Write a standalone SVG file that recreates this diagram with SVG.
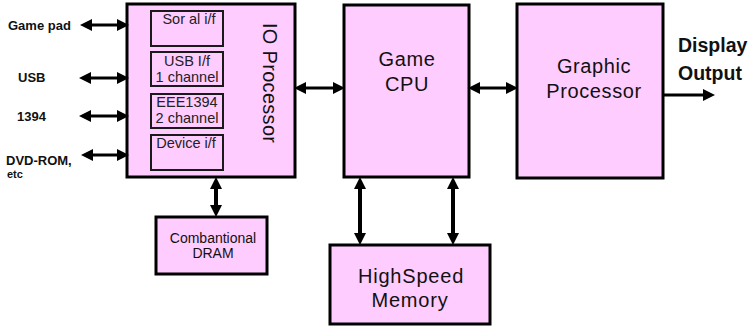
<svg xmlns="http://www.w3.org/2000/svg" width="750" height="329" viewBox="0 0 750 329">
  <defs>
    <style>
      .box { fill: #ffccff; stroke: #000; stroke-width: 3; }
      .sub { fill: #ffccff; stroke: #1a1a1a; stroke-width: 2; }
      .t { font-family: "Liberation Sans", Arial, sans-serif; fill: #111; }
      .big { font-size: 20px; letter-spacing: 0.6px; text-anchor: middle; }
      .small { font-size: 14.5px; text-anchor: middle; fill: #222; }
      .lbl { font-size: 13px; font-weight: bold; }
      .wire { stroke: #000; stroke-width: 3; fill: none; }
      .bus { stroke: #000; stroke-width: 4; fill: none; }
    </style>
    <marker id="head" markerUnits="userSpaceOnUse" markerWidth="12" markerHeight="12"
            refX="0" refY="5" viewBox="0 0 10 10" orient="auto-start-reverse">
      <path d="M0,0 L10,5 L0,10 z" fill="#000"/>
    </marker>
  </defs>

  <rect width="750" height="329" fill="#fff"/>

  <!-- External port labels -->
  <g id="ports">
    <text class="t lbl" x="8" y="30">Game pad</text>
    <text class="t lbl" x="18" y="82">USB</text>
    <text class="t lbl" x="17" y="121">1394</text>
    <text class="t lbl" x="6" y="165">DVD-ROM,</text>
    <text class="t lbl" x="7" y="178" style="font-size:11px">etc</text>
  </g>

  <!-- IO processor with its interface blocks -->
  <g id="io-processor">
    <rect class="box" x="127" y="4" width="168" height="173"/>
    <text class="t" font-size="20" letter-spacing="0.3" transform="translate(263,23) rotate(90)">IO Processor</text>
    <g id="serial-if">
      <rect class="sub" x="151" y="11" width="72" height="35"/>
      <text class="t small" x="189" y="24">Sor al i/f</text>
    </g>
    <g id="usb-if">
      <rect class="sub" x="151" y="52" width="72" height="34"/>
      <text class="t small" x="187" y="66">USB I/f</text>
      <text class="t small" x="187" y="82">1 channel</text>
    </g>
    <g id="ieee1394-if">
      <rect class="sub" x="151" y="94" width="72" height="34"/>
      <text class="t small" x="187" y="107">EEE1394</text>
      <text class="t small" x="187" y="123">2 channel</text>
    </g>
    <g id="device-if">
      <rect class="sub" x="151" y="135" width="72" height="35"/>
      <text class="t small" x="186" y="148">Device i/f</text>
    </g>
  </g>

  <g id="game-cpu">
    <rect class="box" x="344" y="5" width="125" height="172"/>
    <text class="t big" x="407" y="66">Game</text>
    <text class="t big" x="407" y="91">CPU</text>
  </g>

  <g id="graphic-processor">
    <rect class="box" x="517" y="4" width="146" height="174"/>
    <text class="t big" x="594" y="73">Graphic</text>
    <text class="t big" x="594" y="98">Processor</text>
  </g>

  <g id="display-output">
    <text class="t" x="678" y="52" font-size="19.5" font-weight="bold">Display</text>
    <text class="t" x="678" y="80" font-size="19.5" font-weight="bold">Output</text>
  </g>

  <g id="dram">
    <rect class="box" x="156" y="217" width="111" height="57"/>
    <text class="t" x="213" y="243" font-size="14" text-anchor="middle" fill="#222">Combantional</text>
    <text class="t" x="213" y="258" font-size="14" text-anchor="middle" fill="#222">DRAM</text>
  </g>

  <g id="highspeed-memory">
    <rect class="box" x="330" y="245" width="160" height="79"/>
    <text class="t" x="411" y="283" font-size="20" letter-spacing="0.8" text-anchor="middle">HighSpeed</text>
    <text class="t" x="410" y="307" font-size="20" letter-spacing="0.8" text-anchor="middle">Memory</text>
  </g>

  <!-- Connectors -->
  <g id="connectors">
    <line class="wire" x1="92" y1="25" x2="117" y2="25" marker-start="url(#head)" marker-end="url(#head)"/>
    <line class="wire" x1="91" y1="78" x2="117" y2="78" marker-start="url(#head)" marker-end="url(#head)"/>
    <line class="wire" x1="91" y1="116" x2="117" y2="116" marker-start="url(#head)" marker-end="url(#head)"/>
    <line class="wire" x1="93" y1="155" x2="117" y2="155" marker-start="url(#head)" marker-end="url(#head)"/>
    <line class="wire" x1="306" y1="88" x2="333" y2="88" marker-start="url(#head)" marker-end="url(#head)"/>
    <line class="wire" x1="480" y1="88" x2="506" y2="88" marker-start="url(#head)" marker-end="url(#head)"/>
    <line class="wire" x1="664" y1="95" x2="703" y2="95" marker-end="url(#head)"/>
    <line class="bus" x1="216" y1="189" x2="216" y2="205" marker-start="url(#head)" marker-end="url(#head)"/>
    <line class="bus" x1="360" y1="189" x2="360" y2="233" marker-start="url(#head)" marker-end="url(#head)"/>
    <line class="bus" x1="453" y1="189" x2="453" y2="233" marker-start="url(#head)" marker-end="url(#head)"/>
  </g>
</svg>
